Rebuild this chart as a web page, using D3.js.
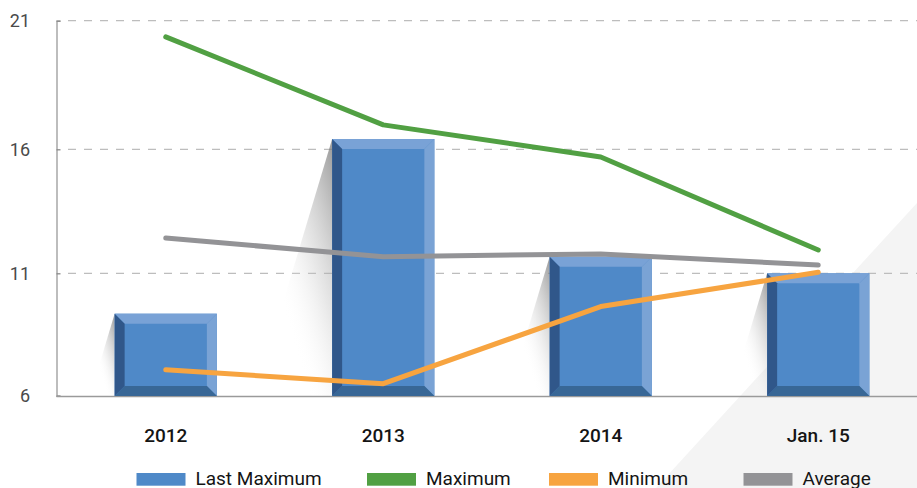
<!DOCTYPE html>
<html lang="en">
<head>
    <meta charset="UTF-8">
    <title>Last Maximum / Maximum / Minimum / Average</title>
    <script src="https://d3js.org/d3.v7.min.js"></script>
    <style>
        body {
            margin: 0;
            background-color: #ffffff;
        }
        svg {
            display: block;
            font-family: Roboto, "Noto Sans", sans-serif;
        }
    </style>
</head>
<body>
    <svg id="chart" width="917" height="488"></svg>

    <script>
        // data
        const categories = ["2012", "2013", "2014", "Jan. 15"];
        const lastMaximum = [9.35, 16.4, 11.67, 11.0];
        const maximum = [20.37, 16.95, 15.69, 11.94];
        const minimum = [7.06, 6.49, 9.64, 11.04];
        const average = [12.42, 11.67, 11.78, 11.33];
        const yTicks = [6, 11, 16, 21];
        const seriesNames = ["Last Maximum", "Maximum", "Minimum", "Average"];

        const width = 917, height = 488;
        const left = 57, bottom = 396;
        const bevel = 10;

        const colors = {
            bar: "#4f89c8",
            barLeft: "#30578a",
            barBottom: "#386796",
            barTop: "#79a2d6",
            barRight: "#7aa3d5",
            max: "#51a043",
            min: "#f7a440",
            avg: "#939396"
        };

        const svg = d3.select("#chart");

        // grey diagonal backdrop in the lower right corner
        svg.append("polygon")
            .attr("points", [[656, 488], [917, 203], [917, 488]].map(p => p.join(",")).join(" "))
            .attr("fill", "#f4f4f4");

        const x = d3.scaleBand()
            .domain(categories)
            .range([left, 927])
            .paddingInner(0.53)
            .paddingOuter(0.265);

        // the reference axis is slightly uneven, so map each tick where it sits
        const y = d3.scaleLinear()
            .domain(yTicks)
            .range([395.7, 273.3, 149.3, 20.7]);

        const defs = svg.append("defs");
        const grad = defs.append("linearGradient")
            .attr("id", "shadowGrad")
            .attr("x1", 1).attr("y1", 0)
            .attr("x2", 0).attr("y2", 1);
        grad.append("stop").attr("offset", 0).attr("stop-color", "#777").attr("stop-opacity", 0.75);
        grad.append("stop").attr("offset", 0.35).attr("stop-color", "#bbb").attr("stop-opacity", 0.35);
        grad.append("stop").attr("offset", 0.65).attr("stop-color", "#fff").attr("stop-opacity", 0);

        // gridlines
        svg.append("g")
            .selectAll("line")
            .data(yTicks.slice(1))
            .enter()
            .append("line")
            .attr("x1", 68).attr("x2", width)
            .attr("y1", d => y(d)).attr("y2", d => y(d))
            .attr("stroke", "#bdbdbd")
            .attr("stroke-width", 1.3)
            .attr("stroke-dasharray", "8,8");

        // y axis
        const yAxis = svg.append("g")
            .attr("transform", `translate(${left - 0.5},0)`)
            .call(d3.axisRight(y).tickValues(yTicks).tickSize(4).tickFormat(""));
        yAxis.select(".domain").attr("stroke", "#9a9a9a").attr("stroke-width", 1.3);
        yAxis.selectAll(".tick line").attr("stroke", "#8a8a8a").attr("stroke-width", 1.3);

        svg.append("g")
            .selectAll("text")
            .data(yTicks)
            .enter()
            .append("text")
            .attr("x", 30)
            .attr("y", d => y(d))
            .attr("dy", "0.36em")
            .attr("text-anchor", "end")
            .attr("font-size", 18)
            .attr("fill", "#4a4a4a")
            .text(d => d);

        // x axis baseline
        svg.append("line")
            .attr("x1", left - 0.5).attr("x2", width)
            .attr("y1", bottom + 0.5).attr("y2", bottom + 0.5)
            .attr("stroke", "#9a9a9a")
            .attr("stroke-width", 1.3);

        svg.append("g")
            .selectAll("text")
            .data(categories)
            .enter()
            .append("text")
            .attr("x", d => x(d) + x.bandwidth() / 2)
            .attr("y", 441.5)
            .attr("text-anchor", "middle")
            .attr("font-size", 19)
            .attr("font-weight", 500)
            .attr("fill", "#141414")
            .text(d => d);

        // bars: shadow + bevelled block
        const barData = categories.map((c, i) => {
            const x0 = x(c), x1 = x0 + x.bandwidth();
            const y0 = y(lastMaximum[i]), y1 = bottom;
            return { c, x0, x1, y0, y1 };
        });

        svg.append("g")
            .selectAll("polygon")
            .data(barData)
            .enter()
            .append("polygon")
            .attr("points", d => {
                const h = d.y1 - d.y0;
                return [[d.x0, d.y0], [d.x0 - h * 0.3, d.y1], [d.x0, d.y1]].map(p => p.join(",")).join(" ");
            })
            .attr("fill", "url(#shadowGrad)");

        const bars = svg.append("g")
            .selectAll("g")
            .data(barData)
            .enter()
            .append("g");

        const pts = arr => arr.map(p => p.join(",")).join(" ");

        bars.append("rect")
            .attr("x", d => d.x0).attr("y", d => d.y0)
            .attr("width", d => d.x1 - d.x0).attr("height", d => d.y1 - d.y0)
            .attr("fill", colors.bar);
        bars.append("polygon") // top
            .attr("points", d => pts([[d.x0, d.y0], [d.x1, d.y0], [d.x1 - bevel, d.y0 + bevel], [d.x0 + bevel, d.y0 + bevel]]))
            .attr("fill", colors.barTop);
        bars.append("polygon") // right
            .attr("points", d => pts([[d.x1, d.y0], [d.x1, d.y1], [d.x1 - bevel, d.y1 - bevel], [d.x1 - bevel, d.y0 + bevel]]))
            .attr("fill", colors.barRight);
        bars.append("polygon") // bottom
            .attr("points", d => pts([[d.x0, d.y1], [d.x1, d.y1], [d.x1 - bevel, d.y1 - bevel], [d.x0 + bevel, d.y1 - bevel]]))
            .attr("fill", colors.barBottom);
        bars.append("polygon") // left
            .attr("points", d => pts([[d.x0, d.y0], [d.x0 + bevel, d.y0 + bevel], [d.x0 + bevel, d.y1 - bevel], [d.x0, d.y1]]))
            .attr("fill", colors.barLeft);

        // lines
        const line = d3.line()
            .x((d, i) => x(categories[i]) + x.bandwidth() / 2)
            .y(d => y(d));

        [[maximum, colors.max], [minimum, colors.min], [average, colors.avg]].forEach(([vals, col]) => {
            svg.append("path")
                .datum(vals)
                .attr("d", line)
                .attr("fill", "none")
                .attr("stroke", col)
                .attr("stroke-width", 5)
                .attr("stroke-linecap", "round")
                .attr("stroke-linejoin", "round");
        });

        // legend
        const legendColors = [colors.bar, colors.max, colors.min, colors.avg];
        const legendX = [136.5, 367, 549, 743.5];
        const legend = svg.append("g")
            .selectAll("g")
            .data(seriesNames)
            .enter()
            .append("g")
            .attr("transform", (d, i) => `translate(${legendX[i]},0)`);

        legend.append("rect")
            .attr("x", 0).attr("y", 473)
            .attr("width", 49).attr("height", 12.7)
            .attr("fill", (d, i) => legendColors[i]);

        legend.append("text")
            .attr("x", 59)
            .attr("y", 484.5)
            .attr("font-size", 19)
            .attr("fill", "#141414")
            .text(d => d);
    </script>
</body>
</html>
